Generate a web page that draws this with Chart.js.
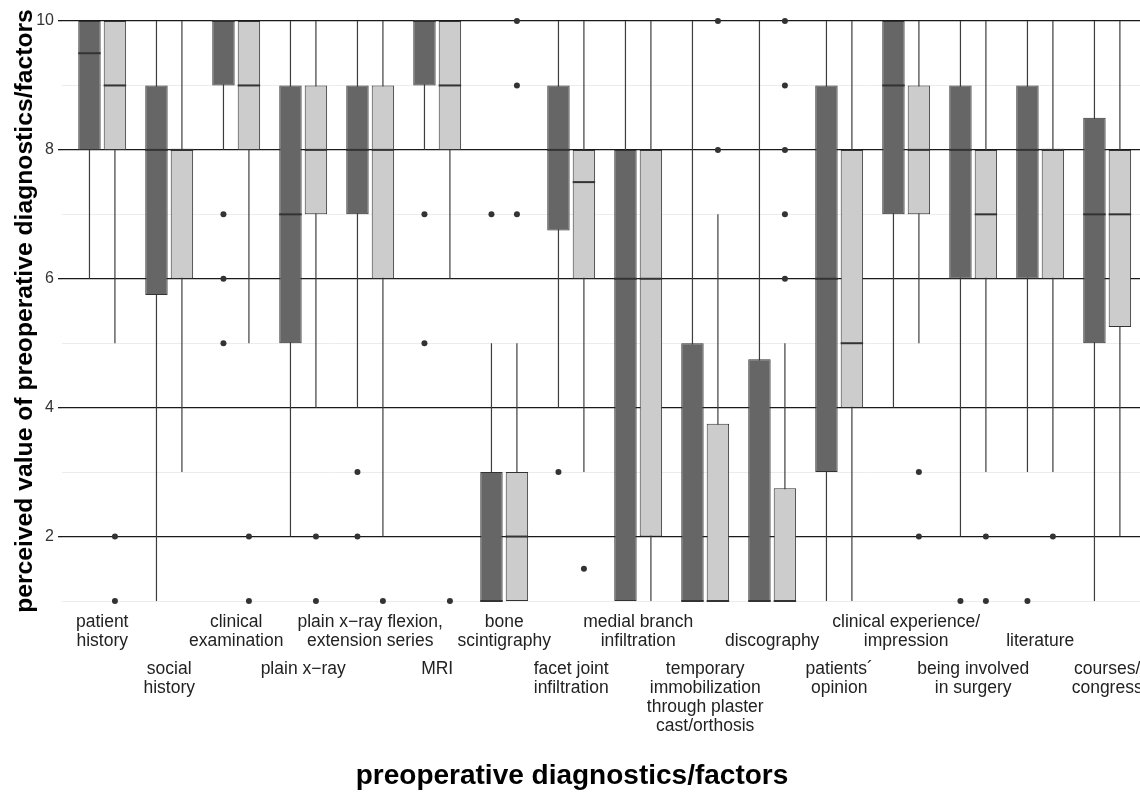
<!DOCTYPE html>
<html>
<head>
<meta charset="utf-8">
<title>preoperative diagnostics/factors</title>
<script src="https://cdn.jsdelivr.net/npm/chart.js@4.4.1/dist/chart.umd.min.js"></script>
<style>
  html, body { margin: 0; padding: 0; background: #fff; overflow: hidden; }
  #wrap { position: relative; width: 1140px; height: 792px; }
</style>
</head>
<body>
<div id="wrap"><canvas id="boxChart"></canvas></div>
<script>
// factor labels (upper row = odd factors, lower row = even factors)
const categories = [
  ['patient', 'history'],
  ['social', 'history'],
  ['clinical', 'examination'],
  ['plain x\u2212ray'],
  ['plain x\u2212ray flexion,', 'extension series'],
  ['MRI'],
  ['bone', 'scintigraphy'],
  ['facet joint', 'infiltration'],
  ['medial branch', 'infiltration'],
  ['temporary', 'immobilization', 'through plaster', 'cast/orthosis'],
  ['discography'],
  ['patients\u00b4', 'opinion'],
  ['clinical experience/', 'impression'],
  ['being involved', 'in surgery'],
  ['literature'],
  ['courses/', 'congress']
];

// dark group
const darkMin = [6, 1, 8, 2, 4, 8, 1, 4, 1, 1, 1, 1, 4, 2, 3, 1];
const darkQ1 = [8, 5.75, 9, 5, 7, 9, 1, 6.75, 1, 1, 1, 3, 7, 6, 6, 5];
const darkMedian = [9.5, 8, 10, 7, 8, 10, 1, 8, 6, 1, 1, 6, 9, 8, 8, 7];
const darkQ3 = [10, 9, 10, 9, 9, 10, 3, 9, 8, 5, 4.75, 9, 10, 9, 9, 8.5];
const darkMax = [10, 10, 10, 10, 10, 10, 5, 10, 10, 10, 10, 10, 10, 10, 10, 10];
const darkOutliers = [[], [], [7, 6, 5], [], [3, 2], [7, 5], [7], [3], [], [], [], [], [], [1], [1], []];

// light group
const lightMin = [5, 3, 5, 4, 2, 6, 1, 3, 1, 1, 1, 1, 5, 3, 3, 2];
const lightQ1 = [8, 6, 8, 7, 6, 8, 1, 6, 2, 1, 1, 4, 7, 6, 6, 5.25];
const lightMedian = [9, 8, 9, 8, 8, 9, 2, 7.5, 6, 1, 1, 5, 8, 7, 8, 7];
const lightQ3 = [10, 8, 10, 9, 9, 10, 3, 8, 8, 3.75, 2.75, 8, 9, 8, 8, 8];
const lightMax = [10, 10, 10, 10, 10, 10, 5, 10, 10, 7, 5, 10, 10, 10, 10, 10];
const lightOutliers = [[2, 1], [], [2, 1], [2, 1], [1], [1], [10, 9, 7], [1.5], [], [10, 8], [10, 9, 8, 7, 6], [], [3, 2], [2, 1], [2], []];

const yTickLabels = [2, 4, 6, 8, 10];

const FONT = '"Liberation Sans", Arial, Helvetica, sans-serif';
const CAT_PCT = 0.76;
const BAR_PCT = 0.88;
const DODGE = CAT_PCT / 4; // half a slot, in category units

function rangeData(lo, hi) {
  return lo.map((v, i) => ({ x: i + 1, y: [v, hi[i]] }));
}

function outlierData(list, shift) {
  const pts = [];
  list.forEach((vals, i) => vals.forEach(v => pts.push({ x: i + 1 + shift, y: v })));
  return pts;
}

// median bar across each box
const medianPlugin = {
  id: 'medianLines',
  afterDatasetsDraw(chart) {
    const ctx = chart.ctx;
    const yScale = chart.scales.y;
    chart.data.datasets.forEach((ds, di) => {
      if (!ds.medians) return;
      const meta = chart.getDatasetMeta(di);
      ctx.save();
      ctx.strokeStyle = '#333333';
      ctx.lineWidth = 2;
      meta.data.forEach((bar, i) => {
        const { x, width } = bar.getProps(['x', 'width'], true);
        const y = yScale.getPixelForValue(ds.medians[i]);
        ctx.beginPath();
        ctx.moveTo(x - width / 2, y);
        ctx.lineTo(x + width / 2, y);
        ctx.stroke();
      });
      ctx.restore();
    });
  }
};

// staggered factor labels and x title
const xLabelPlugin = {
  id: 'xLabels',
  afterDraw(chart) {
    const ctx = chart.ctx;
    const xScale = chart.scales.x;
    const lineGap = 19;
    ctx.save();
    ctx.fillStyle = '#222';
    ctx.textAlign = 'center';
    ctx.textBaseline = 'middle';
    ctx.font = '17.5px ' + FONT;
    categories.forEach((lines, i) => {
      const x = xScale.getPixelForValue(i + 1);
      lines.forEach((txt, j) => {
        let y;
        if (i % 2 === 0) {
          y = 641 - (lines.length - 1 - j) * lineGap;
        } else {
          y = 669 + j * lineGap;
        }
        ctx.fillText(txt, x, y);
      });
    });
    ctx.fillStyle = '#000';
    ctx.font = 'bold 28px ' + FONT;
    ctx.fillText('preoperative diagnostics/factors', 572, 776);
    ctx.restore();
  }
};

const ctx = document.getElementById('boxChart');

new Chart(ctx, {
  type: 'bar',
  data: {
    datasets: [
      {
        label: 'dark box',
        data: rangeData(darkQ1, darkQ3),
        medians: darkMedian,
        stack: 'dark',
        backgroundColor: '#666666',
        borderColor: '#333333',
        borderWidth: 1,
        borderSkipped: false
      },
      {
        label: 'light box',
        data: rangeData(lightQ1, lightQ3),
        medians: lightMedian,
        stack: 'light',
        backgroundColor: '#cccccc',
        borderColor: '#333333',
        borderWidth: 1,
        borderSkipped: false
      },
      {
        label: 'dark whisker',
        data: rangeData(darkMin, darkMax),
        stack: 'dark',
        backgroundColor: '#3d3d3d',
        borderWidth: 0,
        maxBarThickness: 1.2
      },
      {
        label: 'light whisker',
        data: rangeData(lightMin, lightMax),
        stack: 'light',
        backgroundColor: '#3d3d3d',
        borderWidth: 0,
        maxBarThickness: 1.2
      },
      {
        type: 'scatter',
        label: 'dark outliers',
        data: outlierData(darkOutliers, -DODGE),
        pointRadius: 3,
        pointBackgroundColor: '#333333',
        pointBorderWidth: 0,
        clip: false
      },
      {
        type: 'scatter',
        label: 'light outliers',
        data: outlierData(lightOutliers, DODGE),
        pointRadius: 3,
        pointBackgroundColor: '#333333',
        pointBorderWidth: 0,
        clip: false
      }
    ]
  },
  options: {
    responsive: true,
    maintainAspectRatio: false,
    animation: false,
    events: [],
    layout: {
      autoPadding: false,
      padding: { top: 21, bottom: 191, left: 0, right: 0 }
    },
    datasets: {
      bar: {
        categoryPercentage: CAT_PCT,
        barPercentage: BAR_PCT
      }
    },
    scales: {
      x: {
        type: 'linear',
        display: false,
        min: 0.4,
        max: 16.49,
        stacked: true,
        offset: false,
        grid: { offset: false }
      },
      y: {
        min: 1,
        max: 10,
        stacked: false,
        afterFit(scale) { scale.width = 62; },
        border: { display: false },
        grid: {
          color: c => (yTickLabels.includes(c.tick.value) ? '#1a1a1a' : '#ececec'),
          tickColor: c => (yTickLabels.includes(c.tick.value) ? '#1a1a1a' : 'rgba(0,0,0,0)'),
          tickLength: 4,
          lineWidth: c => (yTickLabels.includes(c.tick.value) ? 1.3 : 1)
        },
        ticks: {
          stepSize: 1,
          padding: 4,
          color: '#333',
          font: { family: FONT, size: 16 },
          callback: v => (yTickLabels.includes(v) ? String(v) : '')
        },
        title: {
          display: true,
          text: 'perceived value of preoperative diagnostics/factors',
          color: '#000',
          font: { family: FONT, size: 24.7, weight: 'bold' },
          padding: { top: 10, bottom: 0 }
        }
      }
    },
    plugins: {
      legend: { display: false },
      tooltip: { enabled: false }
    }
  },
  plugins: [medianPlugin, xLabelPlugin]
});
</script>
</body>
</html>
